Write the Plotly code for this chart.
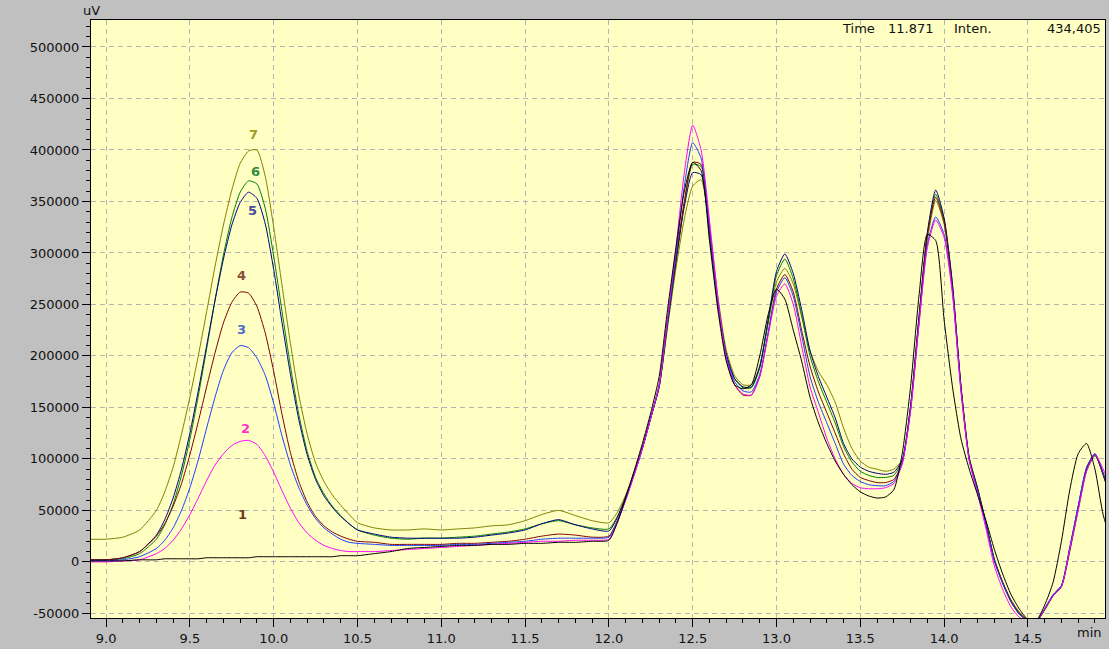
import plotly.graph_objects as go

# Retention time axis (min) shared by all chromatograms
time_min = [
    8.9, 9.0, 9.1, 9.2, 9.3,
    9.35, 9.4, 9.45, 9.5, 9.55, 9.6, 9.65, 9.7, 9.75, 9.8, 9.85, 9.9,
    9.95, 10.0, 10.05, 10.1, 10.15, 10.2, 10.25, 10.3, 10.35, 10.4, 10.45, 10.5,
    10.6, 10.7, 10.8, 10.9, 11.0, 11.1, 11.2, 11.3, 11.4, 11.5, 11.6, 11.7, 11.8, 11.9,
    12.0, 12.05, 12.1, 12.15, 12.2, 12.25, 12.3, 12.35, 12.4, 12.45,
    12.5, 12.55, 12.6, 12.65, 12.7, 12.75, 12.8, 12.85, 12.9, 12.95,
    13.0, 13.05, 13.1, 13.15, 13.2, 13.25, 13.3, 13.35, 13.4, 13.45,
    13.5, 13.55, 13.6, 13.65, 13.7, 13.75, 13.8, 13.85, 13.9, 13.95,
    14.0, 14.05, 14.1, 14.15, 14.2, 14.25, 14.3, 14.35, 14.4, 14.45,
    14.5, 14.55, 14.6, 14.65, 14.7, 14.75, 14.8, 14.85, 14.9, 14.95, 15.0,
]

# Detector signal, thousands of uV
trace_1 = [
    1, 1, 1, 2, 2,
    3, 3, 3, 3, 3, 4, 4, 4, 4, 4, 4, 5,
    5, 5, 5, 5, 5, 5, 5, 5, 5, 6, 6, 6,
    8, 10, 13, 14, 15, 16, 16, 17, 17, 18, 18, 19, 19, 20,
    21, 38, 62, 88, 115, 145, 180, 245, 305, 360,
    388, 380, 312, 245, 195, 172, 168, 172, 200, 240,
    265, 255, 225, 195, 160, 135, 115, 98, 85, 75,
    68, 64, 62, 63, 70, 105, 170, 258, 318, 312,
    235, 170, 120, 90, 65, 40, 12, -12, -32, -46,
    -56, -57, -42, -20, 20, 70, 105, 115, 90, 45, 20,
]
trace_2 = [
    0, 0, 1, 2, 8,
    13, 21, 32, 46, 62, 79, 94, 105, 113, 117, 118, 114,
    103, 87, 69, 52, 38, 28, 21, 16, 13, 11, 10, 10,
    10, 11, 12, 13, 14, 15, 16, 17, 18, 19, 20, 20, 21, 21,
    22, 38, 60, 84, 110, 140, 172, 237, 305, 378,
    424, 400, 332, 257, 198, 172, 163, 162, 180, 220,
    258, 270, 250, 210, 170, 145, 120, 100, 85, 76,
    72, 71, 71, 72, 76, 95, 146, 230, 305, 332,
    315, 260, 166, 98, 66, 32, -4, -27, -44, -54,
    -58, -58, -46, -33, -24, 12, 50, 88, 104, 90, 68,
]
trace_3 = [
    1, 1, 2, 5, 13,
    21, 33, 50, 72, 99, 130, 160, 186, 203, 210, 208, 198,
    181, 154, 122, 94, 72, 55, 42, 33, 27, 22, 19, 18,
    17, 16, 16, 16, 16, 17, 17, 18, 19, 20, 22, 23, 23, 23,
    24, 39, 60, 84, 110, 140, 172, 235, 298, 365,
    407, 392, 325, 252, 200, 175, 166, 165, 182, 222,
    262, 276, 258, 220, 180, 155, 135, 115, 95, 84,
    78, 75, 74, 74, 78, 96, 148, 232, 308, 335,
    318, 262, 168, 99, 69, 36, 1, -21, -39, -51,
    -57, -58, -45, -32, -23, 14, 54, 92, 105, 86, 60,
]
trace_4 = [
    2, 2, 4, 10, 25,
    37, 54, 76, 104, 136, 170, 203, 232, 252, 262, 261, 248,
    222, 185, 143, 106, 78, 58, 44, 35, 29, 25, 22, 20,
    19, 17, 17, 17, 17, 18, 18, 19, 20, 22, 25, 27, 26, 24,
    25, 40, 61, 85, 110, 140, 172, 234, 295, 350,
    388, 386, 320, 250, 198, 172, 162, 162, 180, 222,
    265, 279, 262, 225, 190, 165, 145, 125, 105, 90,
    82, 79, 77, 77, 80, 96, 150, 236, 317, 354,
    330, 266, 170, 100, 70, 37, 2, -20, -38, -50,
    -57, -58, -46, -33, -24, 12, 52, 90, 104, 84, 58,
]
trace_5 = [
    2, 2, 4, 10, 26,
    41, 62, 90, 125, 166, 210, 254, 294, 327, 349, 359, 353,
    328, 284, 232, 182, 138, 104, 80, 64, 53, 44, 37, 31,
    27, 24, 23, 23, 23, 23, 24, 26, 28, 31, 37, 41, 36, 32,
    30, 43, 63, 86, 111, 140, 170, 232, 292, 345,
    378, 376, 318, 252, 202, 178, 170, 170, 190, 235,
    282, 299, 280, 245, 205, 180, 160, 140, 115, 100,
    92, 88, 86, 85, 87, 99, 152, 238, 320, 361,
    334, 270, 172, 101, 71, 37, 1, -21, -39, -51,
    -57, -58, -46, -32, -23, 14, 54, 91, 105, 85, 57,
]
trace_6 = [
    2, 2, 3, 8, 22,
    36, 56, 84, 119, 161, 207, 254, 298, 334, 359, 370, 367,
    343, 297, 243, 190, 143, 107, 82, 66, 54, 45, 37, 31,
    26, 23, 22, 23, 23, 24, 25, 27, 29, 32, 37, 40, 36, 33,
    32, 44, 63, 86, 111, 140, 170, 230, 290, 348,
    386, 384, 322, 253, 202, 178, 169, 169, 188, 232,
    278, 294, 275, 240, 200, 175, 155, 135, 112, 97,
    88, 84, 82, 82, 84, 98, 150, 236, 318, 357,
    332, 268, 170, 100, 71, 38, 2, -20, -38, -50,
    -57, -58, -47, -33, -24, 12, 52, 90, 104, 84, 58,
]
trace_7 = [
    22, 22, 24, 31, 50,
    68, 92, 124, 160, 200, 243, 287, 327, 361, 387, 399, 400,
    374, 325, 268, 212, 162, 124, 96, 78, 65, 55, 46, 38,
    33, 31, 31, 32, 31, 32, 33, 35, 36, 40, 46, 50, 45, 40,
    38, 48, 65, 87, 112, 140, 170, 228, 285, 333,
    365, 371, 325, 258, 206, 181, 172, 172, 190, 232,
    272, 285, 270, 238, 205, 185, 172, 155, 130, 110,
    98, 92, 90, 88, 90, 99, 148, 232, 312, 351,
    328, 265, 172, 102, 72, 38, 3, -20, -37, -49,
    -56, -57, -46, -33, -24, 10, 50, 88, 103, 86, 60,
]

trace_names = ["7", "6", "5", "4", "3", "2", "1"]
trace_values = [trace_7, trace_6, trace_5, trace_4, trace_3, trace_2, trace_1]
trace_colors = ["#808000", "#008000", "#000080", "#800000", "#1E3CFF", "#FF00FF", "#000000"]

# Peak number labels above the first peak
label_text = ["7", "6", "5", "4", "3", "2", "1"]
label_time = [9.878, 9.889, 9.875, 9.81, 9.81, 9.833, 9.815]
label_uv = [415000, 379000, 341000, 278000, 226000, 130000, 46000]
label_colors = ["#9C9C22", "#2E8B3A", "#4A4A9E", "#8A4E3C", "#4A6CCF", "#FF33CC", "#6B3A1E"]

x_tick_vals = [9.0, 9.5, 10.0, 10.5, 11.0, 11.5, 12.0, 12.5, 13.0, 13.5, 14.0, 14.5]
x_tick_text = ["9.0", "9.5", "10.0", "10.5", "11.0", "11.5", "12.0", "12.5", "13.0", "13.5", "14.0", "14.5"]
y_tick_vals = [-50000, 0, 50000, 100000, 150000, 200000, 250000, 300000, 350000, 400000, 450000, 500000]
y_tick_text = [str(v) for v in y_tick_vals]

cursor_time = "11.871"
cursor_inten = "434,405"

fig = go.Figure()
for name, color, vals in zip(trace_names, trace_colors, trace_values):
    fig.add_trace(go.Scatter(
        x=time_min,
        y=[v * 1000 for v in vals],
        mode="lines",
        name=name,
        line=dict(color=color, width=1, shape="spline", smoothing=0.6),
        hoverinfo="skip",
    ))

font_family = "DejaVu Sans"
text_color = "#111111"
annotations = []
for txt, t, uv, c in zip(label_text, label_time, label_uv, label_colors):
    annotations.append(dict(x=t, y=uv, xref="x", yref="y", text="<b>" + txt + "</b>",
                            showarrow=False,
                            font=dict(family=font_family, size=13, color=c)))

annotations += [
    dict(x=0, y=1, xref="paper", yref="paper", text="uV", showarrow=False,
         xanchor="center", yanchor="bottom", yshift=0,
         font=dict(family=font_family, size=13, color=text_color)),
    dict(x=1, y=0, xref="paper", yref="paper", text="min", showarrow=False,
         xanchor="right", yanchor="top", yshift=-5, xshift=-1,
         font=dict(family=font_family, size=13, color=text_color)),
    dict(x=13.60, y=1, xref="x", yref="paper", text="Time", showarrow=False,
         xanchor="right", yanchor="top", yshift=1,
         font=dict(family=font_family, size=13, color=text_color)),
    dict(x=13.95, y=1, xref="x", yref="paper", text=cursor_time, showarrow=False,
         xanchor="right", yanchor="top", yshift=1,
         font=dict(family=font_family, size=13, color=text_color)),
    dict(x=14.05, y=1, xref="x", yref="paper", text="Inten.", showarrow=False,
         xanchor="left", yanchor="top", yshift=1,
         font=dict(family=font_family, size=13, color=text_color)),
    dict(x=1, y=1, xref="paper", yref="paper", text=cursor_inten, showarrow=False,
         xanchor="right", yanchor="top", yshift=1, xshift=-2,
         font=dict(family=font_family, size=13, color=text_color)),
]

grid_color = "#B4B4B4"
fig.update_layout(
    width=1109, height=649,
    margin=dict(l=91, r=3, t=20, b=25),
    paper_bgcolor="#C0C0C0",
    plot_bgcolor="#FFFFC4",
    showlegend=False,
    font=dict(family=font_family, size=13, color=text_color),
    annotations=annotations,
)
fig.update_xaxes(
    range=[8.91, 14.96],
    tickmode="array", tickvals=x_tick_vals, ticktext=x_tick_text,
    ticks="outside", ticklen=8, tickcolor="black", tickwidth=1,
    showline=True, linecolor="black", linewidth=1, mirror=True,
    showgrid=True, gridcolor=grid_color, griddash="5px,4px", gridwidth=1,
    zeroline=False,
    minor=dict(tickmode="linear", tick0=9.0, dtick=0.1, ticks="outside",
               ticklen=4, tickcolor="black", showgrid=False),
)
fig.update_yaxes(
    range=[-54500, 526200],
    tickmode="array", tickvals=y_tick_vals, ticktext=y_tick_text,
    ticks="outside", ticklen=8, tickcolor="black", tickwidth=1,
    showline=True, linecolor="black", linewidth=1, mirror=True,
    showgrid=True, gridcolor=grid_color, griddash="5px,4px", gridwidth=1,
    zeroline=False,
    minor=dict(tickmode="linear", tick0=0, dtick=10000, ticks="outside",
               ticklen=4, tickcolor="black", showgrid=False),
)

fig.write_html("out.html")
